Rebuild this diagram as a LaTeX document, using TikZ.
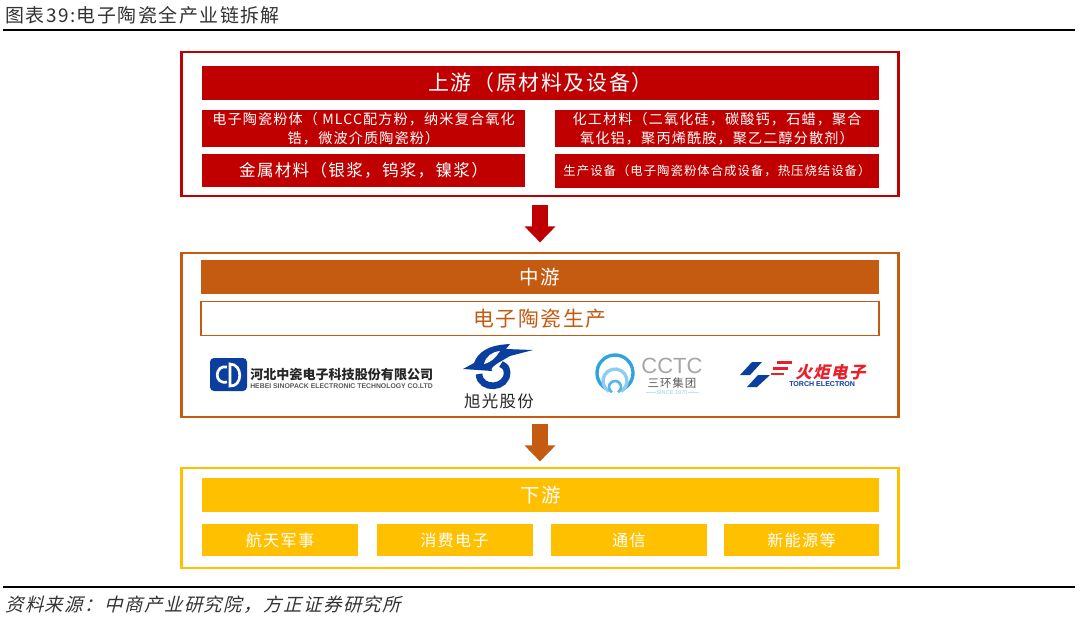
\documentclass[tikz,border=0pt]{standalone}
\usepackage{fontspec}
\setmainfont[LetterSpace=8]{Noto Sans CJK SC}
\newfontfamily\cjkslant[LetterSpace=8,FakeSlant=0.25]{Noto Sans CJK SC}
\newfontfamily\cjkplain{Noto Sans CJK SC}
\newfontfamily\latinfont{Liberation Sans}
\usepackage{tikz}
\usetikzlibrary{arrows.meta, positioning}
\definecolor{upred}{HTML}{C00000}
\definecolor{midbrown}{HTML}{C55A11}
\definecolor{lowgold}{HTML}{FFC000}
\definecolor{logoblue}{HTML}{0B3F9F}
\definecolor{cctcblue}{HTML}{2FA3DF}
\definecolor{torchred}{HTML}{E8202A}
\tikzset{
    panel/.style={draw=#1, line width=1.9pt, inner sep=0pt},
    band/.style={fill=#1, text=white, inner sep=0pt, align=center},
    bigarrow/.style={-{Triangle[length=12pt,width=22.5pt]}, line width=12pt, #1},
    logotext/.style={inner sep=0pt, align=center}
}
\newcommand{\fsize}[1]{\fontsize{#1}{14pt}\selectfont}
\newcommand{\zl}{\char"FF08\relax}
\newcommand{\zr}{\char"FF09\relax}
\newcommand{\zc}{\char"FF0C\relax}
\newcommand{\zm}{\char"FF1A\relax}
\begin{document}
\begin{tikzpicture}[x=0.75pt,y=-0.75pt]
    \useasboundingbox (0,0) rectangle (1080,625);
    \fill[white] (0,0) rectangle (1080,625);
    \node[inner sep=0pt, anchor=west, text=black!80, font=\fsize{14.2}] (title) at (5,15) {图表39:电子陶瓷全产业链拆解};
    \coordinate (topl) at (3,30);
    \coordinate (topr) at (1075,30);
    \draw[line width=2.2pt] (topl) -- (topr);
    \node[panel=upred, minimum width=538pt, minimum height=108pt] (upstream) at (540,124) {};
    \node[band=upred, minimum width=508pt, minimum height=25.5pt, font=\fsize{15.7}] (uphead) at (540.5,83) {上游\zl 原材料及设备\zr};
    \node[band=upred, minimum width=242pt, minimum height=28pt, font=\fsize{10.6}] (powder) at (363.5,128.5) {电子陶瓷粉体\zl{} MLCC配方粉\zc 纳米复合氧化\\锆\zc 微波介质陶瓷粉\zr};
    \node[band=upred, minimum width=242pt, minimum height=25pt, font=\fsize{12.4}] (metal) at (363.5,170.5) {金属材料\zl 银浆\zc 钨浆\zc 镍浆\zr};
    \node[band=upred, minimum width=243pt, minimum height=28pt, font=\fsize{10.6}] (chem) at (717,128.5) {化工材料\zl 二氧化硅\zc 碳酸钙\zc 石蜡\zc 聚合\\氧化铝\zc 聚丙烯酰胺\zc 聚乙二醇分散剂\zr};
    \node[band=upred, minimum width=243pt, minimum height=25pt, font=\fsize{9.3}] (equip) at (717,171) {生产设备\zl 电子陶瓷粉体合成设备\zc 热压烧结设备\zr};
    \node[panel=midbrown, minimum width=538pt, minimum height=123pt] (midstream) at (540,335) {};
    \node[band=midbrown, minimum width=509pt, minimum height=25.5pt, font=\fsize{14.6}] (midhead) at (540,277) {中游};
    \node[draw=midbrown, line width=1.4pt, inner sep=0pt, text=midbrown, minimum width=508pt, minimum height=25.5pt, font=\fsize{15.6}] (midprod) at (540,318.5) {电子陶瓷生产};
    \node[panel=lowgold, minimum width=538pt, minimum height=75pt] (downstream) at (540,518) {};
    \node[band=lowgold, minimum width=508pt, minimum height=25.5pt, font=\fsize{14.6}] (lowhead) at (540.5,495) {下游};
    \node[band=lowgold, minimum width=117pt, minimum height=24pt, font=\fsize{12.1}] (aero) at (280,540) {航天军事};
    \node[band=lowgold, minimum width=117pt, minimum height=24pt, font=\fsize{12.1}] (consumer) at (454.5,540) {消费电子};
    \node[band=lowgold, minimum width=117pt, minimum height=24pt, font=\fsize{12.1}] (telecom) at (629,540) {通信};
    \node[band=lowgold, minimum width=116.5pt, minimum height=24pt, font=\fsize{12.1}] (energy) at (801.5,540) {新能源等};
    \draw[bigarrow=upred, shorten <=5.5pt, shorten >=7pt] (upstream.south) -- (midstream.north);
    \draw[bigarrow=midbrown, shorten <=4.5pt, shorten >=4pt] (midstream.south) -- (downstream.north);
    \fill[logoblue, rounded corners=3pt] (210,358) rectangle (247,391);
    \draw[white, line width=2pt] (227,367) .. controls (215,364) and (213,385) .. (227,382);
    \draw[white, line width=2pt] (230,364) .. controls (243,364) and (243,387) .. (230,386) -- cycle;
    \node[logotext, anchor=west, text=black!85, font=\cjkplain\bfseries\fontsize{9.8}{12}\selectfont] (sinocn) at (250,375) {河北中瓷电子科技股份有限公司};
    \node[logotext, anchor=west, text=black!65, font=\latinfont\bfseries\fontsize{5.15}{6}\selectfont] (sinoen) at (250,386) {HEBEI SINOPACK ELECTRONIC TECHNOLOGY CO.LTD};
    \fill[logoblue] (463,369) -- (474,363) .. controls (478,352) and (488,345) .. (510,344) -- (506,349) -- (533,350) -- (510,356) -- (498,363) .. controls (494,366) and (490,368) .. (492,371) -- cycle;
    \fill[white] (484,364) .. controls (486,356) and (492,352) .. (500,351) .. controls (496,357) and (492,362) .. cycle;
    \draw[logoblue, line width=5pt] (479,374) .. controls (480,391) and (508,389) .. (507,372) .. controls (506,367) .. (501,364);
    \node[logotext, text=black!85, font=\fsize{12.3}] (xuguang) at (499,401) {旭光股份};
    \draw[cctcblue, line width=2.5pt] (606,388.6) arc[start angle=120, end angle=420, radius=18];
    \draw[cctcblue!55, line width=2.5pt] (609,391.4) arc[start angle=120, end angle=420, radius=12];
    \draw[cctcblue!80, line width=2pt] (612,392.2) arc[start angle=120, end angle=420, radius=6];
    \node[logotext, text=black!35, font=\latinfont\fontsize{16.5}{18}\selectfont] (cctc) at (672,366) {CCTC};
    \node[logotext, text=black!65, font=\fsize{8.6}] (sanhuan) at (672,383) {三环集团};
    \node[logotext, text=cctcblue!50, font=\latinfont\fontsize{4.2}{5}\selectfont] (since) at (672,392.5) {SINCE 1970};
    \draw[cctcblue!30, line width=0.5pt] (646,392.5) -- (since.west);
    \draw[cctcblue!30, line width=0.5pt] (since.east) -- (699,392.5);
    \fill[logoblue] (752,362) -- (762,362) -- (750,375) -- (740,375) -- cycle;
    \fill[logoblue] (758,375) -- (770,375) -- (757,387) -- (747,387) -- cycle;
    \draw[torchred, line width=2pt] (777,362.5) -- (792,362.5);
    \draw[torchred, line width=2pt] (773,368.5) -- (788,368.5);
    \draw[torchred, line width=2pt] (771,374) -- (784,374);
    \node[logotext, anchor=west, text=torchred, font=\cjkslant\bfseries\fontsize{12.4}{14}\selectfont] (torchcn) at (795,372) {火炬电子};
    \node[logotext, anchor=west, text=logoblue, font=\latinfont\bfseries\fontsize{5.3}{6}\selectfont] (torchen) at (789,384) {TORCH ELECTRON};
    \coordinate (botl) at (3,587);
    \coordinate (botr) at (1075,587);
    \draw[line width=2.2pt] (botl) -- (botr);
    \node[inner sep=0pt, anchor=west, text=black!80, font=\cjkslant\fsize{13.8}] (source) at (5,605) {资料来源\zm 中商产业研究院\zc 方正证券研究所};
\end{tikzpicture}
\end{document}
